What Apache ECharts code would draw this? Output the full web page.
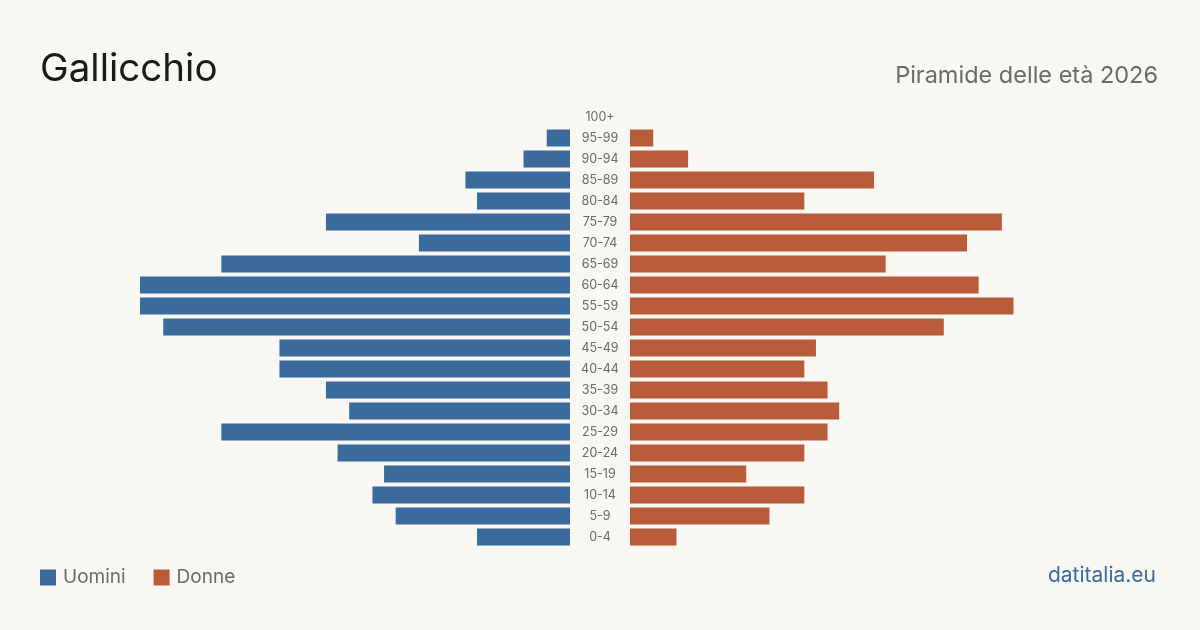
<!DOCTYPE html>
<html lang="it">
<head>
    <meta charset="UTF-8">
    <title>Gallicchio - Piramide delle età 2026</title>
    <script src="https://cdn.jsdelivr.net/npm/echarts@6/dist/echarts.min.js"></script>
    <style>
        * { margin: 0; padding: 0; }
        body { background: #f9f7f2; }
        #chart { width: 1200px; height: 630px; }
    </style>
</head>
<body>
    <div id="chart"></div>
    <script>
        // classi di età, dall'alto verso il basso
        var classi = ['100+', '95-99', '90-94', '85-89', '80-84', '75-79', '70-74', '65-69', '60-64', '55-59',
            '50-54', '45-49', '40-44', '35-39', '30-34', '25-29', '20-24', '15-19', '10-14', '5-9', '0-4'];
        var uomini = [0, 2, 4, 9, 8, 21, 13, 30, 37, 37, 35, 25, 25, 21, 19, 30, 20, 16, 17, 15, 8];
        var donne = [0, 2, 5, 21, 15, 32, 29, 22, 30, 33, 27, 16, 15, 17, 18, 17, 15, 10, 15, 12, 4];

        var blu = '#3a6b9c';
        var rosso = '#b95c3c';
        var maxVal = 37;

        var chart = echarts.init(document.getElementById('chart'));
        chart.setOption({
            backgroundColor: '#f9f7f2',
            textStyle: { fontFamily: 'Inter' },
            title: [
                {
                    text: 'Gallicchio', left: 40, top: 50, padding: 0,
                    textStyle: { fontSize: 38.5, fontWeight: 'normal', color: '#1a1a1a', fontFamily: 'Inter' }
                },
                {
                    text: 'Piramide delle età 2026', right: 42, top: 64, padding: 0,
                    textStyle: { fontSize: 23.5, fontWeight: 'normal', color: '#6b6b6b', fontFamily: 'Inter' }
                },
                {
                    text: 'datitalia.eu', right: 44, top: 565, padding: 0,
                    textStyle: { fontSize: 21, fontWeight: 'normal', color: blu, fontFamily: 'Inter' }
                }
            ],
            legend: {
                left: 40, top: 568, padding: 0,
                icon: 'rect', itemWidth: 16, itemHeight: 16, itemGap: 28,
                textStyle: { fontSize: 19, color: '#6b6b6b', fontFamily: 'Inter', padding: [0, 0, 0, 2] },
                data: ['Uomini', 'Donne']
            },
            grid: [
                { left: 140, width: 430, top: 106.5, height: 441 },
                { left: 630, width: 430, top: 106.5, height: 441 }
            ],
            xAxis: [
                { gridIndex: 0, type: 'value', min: 0, max: maxVal, inverse: true, show: false },
                { gridIndex: 1, type: 'value', min: 0, max: maxVal, show: false }
            ],
            yAxis: [
                {
                    gridIndex: 0, type: 'category', data: classi, inverse: true,
                    axisLine: { show: false }, axisTick: { show: false }, axisLabel: { show: false }
                },
                {
                    gridIndex: 1, type: 'category', data: classi, inverse: true,
                    axisLine: { show: false }, axisTick: { show: false },
                    axisLabel: { margin: 30, align: 'center', fontSize: 12.5, color: '#6b6b6b', fontFamily: 'Inter' }
                }
            ],
            series: [
                {
                    name: 'Uomini', type: 'bar', xAxisIndex: 0, yAxisIndex: 0,
                    data: uomini, barWidth: 17, itemStyle: { color: blu }, silent: true
                },
                {
                    name: 'Donne', type: 'bar', xAxisIndex: 1, yAxisIndex: 1,
                    data: donne, barWidth: 17, itemStyle: { color: rosso }, silent: true
                }
            ]
        });
    </script>
</body>
</html>
